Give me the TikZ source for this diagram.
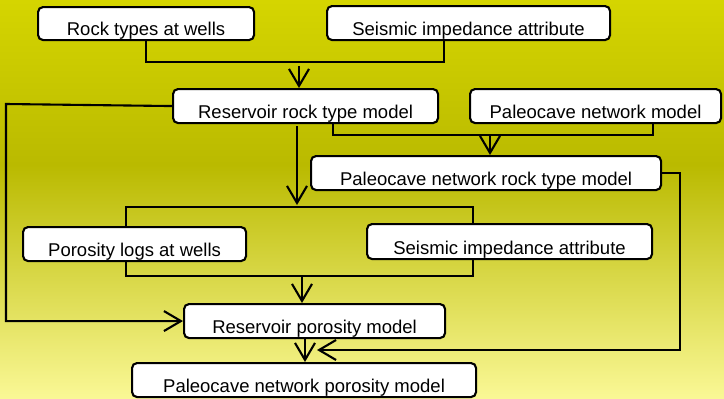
\documentclass[tikz,border=0pt]{standalone}
\usepackage{fontspec}
\setmainfont{Liberation Sans}
\usetikzlibrary{arrows.meta}
\definecolor{bgtop}{RGB}{213,213,0}
\definecolor{bgmid}{RGB}{186,186,0}
\definecolor{bgbot}{RGB}{250,248,150}
\begin{document}
\begin{tikzpicture}[x=1pt,y=-1pt,
  box/.style={draw=black,line width=2.1pt,fill=white,rounded corners=5pt,inner sep=0pt,
    text depth=4.5pt,anchor=north west,font=\fontsize{18.5}{22}\selectfont},
  conn/.style={line width=2.1pt},
  arr/.style={conn,-{Straight Barb[length=17pt,width=20pt]}}]
\useasboundingbox (0,0) rectangle (724,399);
\shade[top color=bgtop,bottom color=bgmid] (0,0) rectangle (724,165);
\shade[top color=bgmid,bottom color=bgbot] (0,165) rectangle (724,399);
% group bracket
\coordinate (g1) at (126,207);
\coordinate (g2) at (473,276);
\draw[conn] (g1) rectangle (g2);
% boxes
\node[box,minimum width=216pt,text height=28.5pt] (rt) at (37,6) {Rock types at wells};
\node[box,minimum width=283pt,text height=29.5pt] (seis1) at (326,5) {Seismic impedance attribute};
\node[box,minimum width=265pt,text height=29.5pt] (rrm) at (172,88) {Reservoir rock type model};
\node[box,minimum width=251pt,text height=29.5pt] (pnm) at (469,88) {Paleocave network model};
\node[box,minimum width=350pt,text height=29.5pt] (prm) at (310,155) {Paleocave network rock type model};
\node[box,minimum width=223pt,text height=29.5pt] (pl) at (22,226) {Porosity logs at wells};
\node[box,minimum width=285pt,text height=30.5pt] (seis2) at (366,223) {Seismic impedance attribute};
\node[box,minimum width=261pt,text height=29.5pt] (rpm) at (183,303) {Reservoir porosity model};
\node[box,minimum width=344pt,text height=29.5pt] (pnpm) at (131,362) {Paleocave network porosity model};
% connectors
\coordinate (j1a) at (444,62);
\draw[conn] (rt.south) |- (j1a) -- (j1a |- seis1.south);
\coordinate (a1s) at (299,66);
\draw[arr] (a1s) -- (a1s |- rrm.north);
\coordinate (j2a) at (333,135);
\coordinate (j2b) at (653,135);
\draw[conn] (j2a |- rrm.south) -- (j2a) -- (j2b) -- (j2b |- pnm.south);
\coordinate (a2s) at (490,135);
\draw[arr] (a2s) -- (a2s |- prm.north);
\coordinate (a3s) at (297,126);
\coordinate (a3e) at (297,205);
\draw[arr] (a3s) -- (a3e);
\coordinate (a4s) at (302,276);
\draw[arr] (a4s) -- (a4s |- rpm.north);
\coordinate (lft) at (6,104);
\draw[arr] (rrm.west) -- (lft) |- (rpm.west);
\coordinate (rgt) at (680,350);
\coordinate (rgtend) at (317,350);
\draw[arr] (prm.east) -| (rgt) -- (rgtend);
\coordinate (a5s) at (305,337);
\draw[arr] (a5s) -- (a5s |- pnpm.north);
\end{tikzpicture}
\end{document}
